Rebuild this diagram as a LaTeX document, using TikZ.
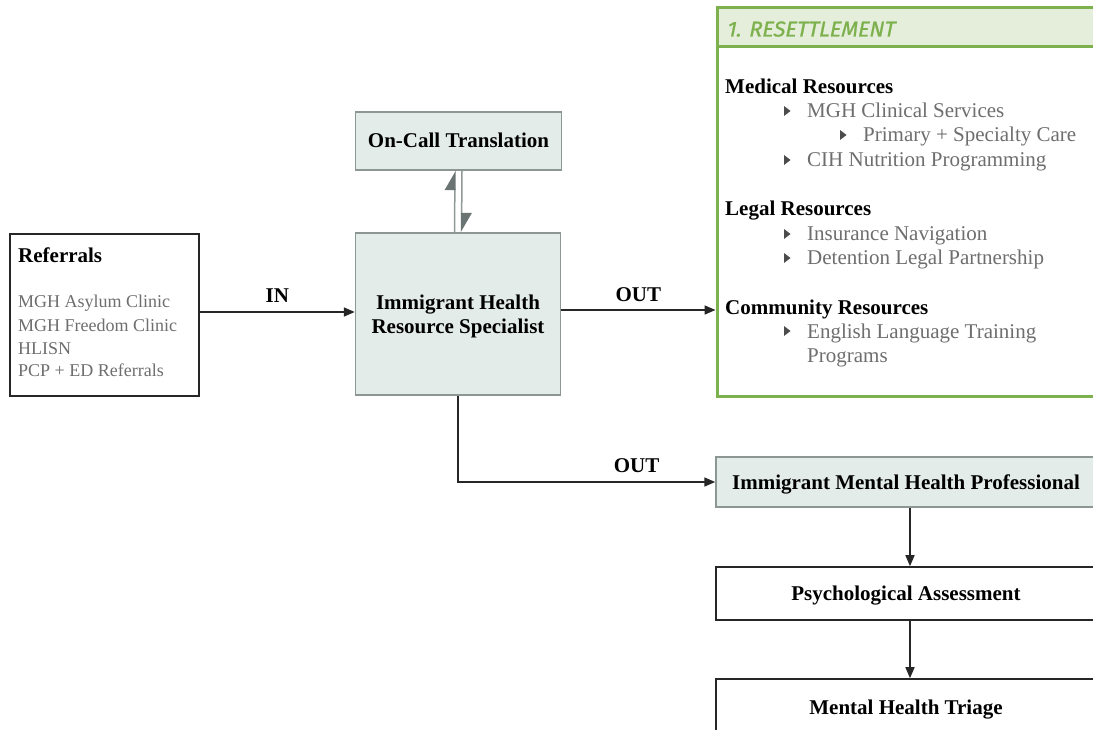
\documentclass[tikz,border=0pt]{standalone}
\usepackage{fontspec}
\setmainfont{Liberation Serif}
\newfontfamily\hdfont[FakeSlant=0.2,FakeBold=0.9]{Fira Sans}
\usetikzlibrary{arrows.meta}
\definecolor{boxfill}{HTML}{E3ECE9}
\definecolor{boxline}{HTML}{8C9694}
\definecolor{grn}{HTML}{7DB14E}
\definecolor{grnfill}{HTML}{E5EEDA}
\definecolor{gtext}{HTML}{6E6E6E}
\definecolor{harpline}{HTML}{8F9A98}
\definecolor{harptip}{HTML}{6A7573}
\begin{document}
\begin{tikzpicture}[x=1pt,y=-1pt,
  gbox/.style={draw=boxline, fill=boxfill, line width=1.5pt, inner sep=0pt},
  wbox/.style={draw=black!85, fill=white, line width=1.6pt, inner sep=0pt},
  lbl/.style={font=\fontsize{21}{25}\selectfont\bfseries, inner sep=0pt},
  clbl/.style={font=\fontsize{21}{25}\selectfont\bfseries, text height=14pt, text depth=0pt},
  refitem/.style={font=\fontsize{18}{22}\selectfont, text=gtext, anchor=base west, inner sep=0pt},
  item/.style={font=\fontsize{21}{25}\selectfont, text=gtext, anchor=base west, inner sep=0pt},
  head/.style={font=\fontsize{21}{25}\selectfont\bfseries, anchor=base west, inner sep=0pt},
  arr/.style={-{Triangle[length=11pt,width=9pt]}, line width=1.6pt, draw=black!85},
  harp/.style={-{Triangle[left,length=18pt,width=20pt,color=harptip]}, line width=1.5pt, draw=harpline},
  bul/.style={fill=black!70, draw=none}
]
\clip (0,0) rectangle (1093,730);
\fill[white] (0,0) rectangle (1093,730);

% Referrals
\node[wbox, minimum width=189pt, minimum height=162pt] (ref) at (104.5,315) {};
\node[head] (refT) at (18,262) {Referrals};
\node[refitem] (r1) at (18,308) {MGH Asylum Clinic};
\node[refitem] (r2) at (18,331) {MGH Freedom Clinic};
\node[refitem] (r3) at (18,354) {HLISN};
\node[refitem] (r4) at (18,376) {PCP + ED Referrals};

% Immigrant Health Resource Specialist
\node[gbox, minimum width=205pt, minimum height=162pt] (ihrs) at (458,314) {};
\node[lbl, anchor=base] (ihrsA) at (458,309) {Immigrant Health};
\node[lbl, anchor=base] (ihrsB) at (458,333) {Resource Specialist};

% On-Call Translation
\node[gbox, clbl, minimum width=206pt, minimum height=58pt] (onc) at (458.5,141) {On-Call Translation};

\draw[harp] ([xshift=-3.5pt]ihrs.north) -- ([xshift=-3.5pt]onc.south);
\draw[harp] ([xshift=3.5pt]onc.south) -- ([xshift=3.5pt]ihrs.north);

% Resettlement box
\node[draw=grn, fill=white, line width=3pt, minimum width=400pt, minimum height=389pt, inner sep=0pt] (res) at (917,202) {};
\node[draw=grn, fill=grnfill, line width=3pt, minimum width=400pt, minimum height=39pt, inner sep=0pt] (resH) at (917,27) {};
\node[font=\hdfont\fontsize{21.5}{24}\selectfont, text=grn, anchor=base west, inner sep=0pt] (resT) at (726,36.5) {1. RESETTLEMENT};

\node[head] (medH) at (725,94) {Medical Resources};
\node[item] (m1) at (807,118) {MGH Clinical Services};
\node[item] (m2) at (863,142) {Primary + Specialty Care};
\node[item] (m3) at (807,167) {CIH Nutrition Programming};
\node[head] (legH) at (725,216) {Legal Resources};
\node[item] (l1) at (807,241) {Insurance Navigation};
\node[item] (l2) at (807,265) {Detention Legal Partnership};
\node[head] (comH) at (725,314) {Community Resources};
\node[item] (c1) at (807,338) {English Language Training};
\node[item] (c2) at (807,362) {Programs};

\foreach \bx/\by in {784/111, 840/135, 784/160, 784/234, 784/258, 784/331}
  \fill[bul] (\bx,\by-5) -- (\bx+6.5,\by) -- (\bx,\by+5) -- cycle;

% Mental health chain
\node[gbox, clbl, minimum width=388pt, minimum height=50pt] (imhp) at (910,482) {\hspace*{-8pt}Immigrant Mental Health Professional};
\node[wbox, clbl, minimum width=388pt, minimum height=53pt] (psy) at (910,593.5) {\hspace*{-8pt}Psychological Assessment};
\node[wbox, clbl, minimum width=388pt, minimum height=56pt] (mht) at (910,707) {\hspace*{-8pt}Mental Health Triage};

% connectors
\draw[arr] (ref.east |- 0,312) -- (ihrs.west |- 0,312) node[lbl, midway, above=9pt] (inL) {IN};
\draw[arr] (ihrs.east |- 0,310) -- (res.west |- 0,310) node[lbl, midway, above=7pt] (outA) {OUT};
\draw[arr] (ihrs.south) |- (imhp.west) node[lbl, pos=0.847, above=8pt] (outB) {OUT};
\draw[arr] (imhp.south) -- (psy.north);
\draw[arr] (psy.south) -- (mht.north);
\end{tikzpicture}
\end{document}
